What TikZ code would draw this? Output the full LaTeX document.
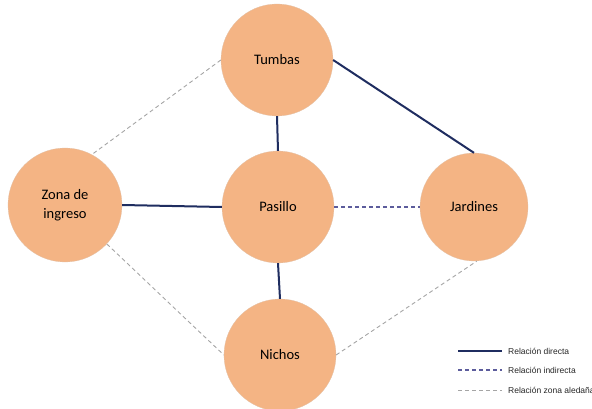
\documentclass[tikz,border=0pt]{standalone}
\usepackage{fontspec}
\setmainfont{Carlito}
\newfontfamily\legfont{Liberation Sans}
\usetikzlibrary{positioning}

\definecolor{salmon}{RGB}{244,180,132}
\definecolor{navy}{RGB}{31,45,96}
\definecolor{indblue}{RGB}{92,92,156}
\definecolor{nearg}{RGB}{165,165,165}

\begin{document}
\begin{tikzpicture}[
  x=1pt, y=-1pt,
  font=\fontsize{14.5}{17}\selectfont,
  zone/.style  ={circle, fill=salmon, draw=salmon!85!black!60, line width=0.3pt,
                 minimum size=112pt, inner sep=0pt, align=center},
  direct/.style={draw=navy, line width=2pt},
  indirect/.style={draw=indblue, line width=1.1pt, dash pattern=on 4pt off 3pt},
  nearby/.style={draw=nearg, line width=0.9pt, dash pattern=on 4pt off 3pt},
  legtext/.style={font=\legfont\fontsize{8.5}{10}\selectfont, text=black!85,
                  anchor=west, inner sep=0pt},
]
\useasboundingbox (0,0) rectangle (592,409);

% ---------------- zones ----------------
\node[zone] (pasillo) at (278,207) {Pasillo};
\node[zone] (tumbas) at (277,60) {Tumbas};
\node[zone, minimum size=114pt] (zona) at (65,205) {Zona de\\[2pt]ingreso};
\node[zone, minimum size=108pt] (jardines) at (474,207) {Jardines};
\node[zone] (nichos) at (280,355) {Nichos};

% ---------------- relations ----------------
\draw[direct] (tumbas.east) -- (jardines.north);
\draw[direct] (tumbas.south) -- (pasillo.north);
\draw[direct] (zona.east) -- (pasillo.west);
\draw[direct] (pasillo.south) -- (nichos.north);
\draw[indirect] (pasillo.east) -- (jardines.west);
\draw[nearby] (tumbas.west) -- (zona.62);
\draw[nearby] (zona.-43) -- (nichos.west);
\draw[nearby] (nichos.east) -- (jardines.-87);

% ---------------- legend ----------------
\coordinate (d1) at (458,351);
\coordinate (d2) at (502,351);
\coordinate (i1) at (458,370);
\coordinate (i2) at (502,370);
\coordinate (n1) at (458,390);
\coordinate (n2) at (502,390);
\draw[direct] (d1) -- (d2);
\draw[indirect] (i1) -- (i2);
\draw[nearby] (n1) -- (n2);
\node[legtext, right=6pt of d2] (ldir) {Relación directa};
\node[legtext, right=6pt of i2] (lind) {Relación indirecta};
\node[legtext, right=6pt of n2] (lnear) {Relación zona aledaña};

\end{tikzpicture}
\end{document}
